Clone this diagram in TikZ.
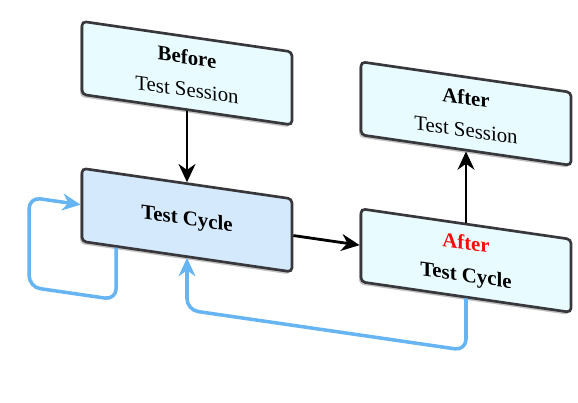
\documentclass[tikz,border=0pt]{standalone}
\usepackage{fontspec}
\setmainfont{Liberation Serif}
\usepackage{tikz}
\usetikzlibrary{arrows.meta, calc, shadows}
\definecolor{sessionfill}{RGB}{232, 252, 255}
\definecolor{cyclefill}{RGB}{212, 233, 251}
\definecolor{boxedge}{RGB}{56, 56, 60}
\definecolor{loopblue}{RGB}{102, 180, 242}
\definecolor{afterred}{RGB}{250, 10, 10}

\begin{document}
\begin{tikzpicture}[
    x=0.025cm, y=-0.025cm,
    box/.style={draw=boxedge, line width=1.9pt, rounded corners=3pt,
                minimum width=5.25cm, minimum height=1.825cm,
                align=center, font=\fontsize{14.8}{23}\selectfont,
                drop shadow={shadow xshift=-1.4pt, shadow yshift=-1.8pt,
                             opacity=0.4, fill=black!60}},
    arrow/.style={-{Stealth[length=13pt, width=12pt]}, line width=2pt, black},
    backloop/.style={-{Stealth[length=13pt, width=12pt]}, line width=2.5pt,
                     loopblue, rounded corners=8pt},
  ]
  \useasboundingbox (0,0) rectangle (578,402);
  \begin{scope}[yslant=-0.145, transform shape]
    % Before test session
    \node[box, fill=sessionfill] (before) at (187,46)
      {\textbf{Before}\\Test Session};

    % Test cycle
    \node[box, fill=cyclefill] (cycle) at (187,193) {\textbf{Test Cycle}};

    % After test session
    \node[box, fill=sessionfill] (aftersession) at (466,46)
      {\textbf{After}\\Test Session};

    % After test cycle
    \node[box, fill=sessionfill] (aftercycle) at (466,193)
      {\textbf{\textcolor{afterred}{After}}\\\textbf{Test Cycle}};

    % Arrows
    \draw[arrow] (before) -- (cycle);
    \draw[arrow] (cycle) -- (aftercycle);
    \draw[arrow] (aftercycle) -- (aftersession);

    % Loops back into the test cycle
    \draw[backloop] ($(cycle.south west)!0.167!(cycle.south east)$)
      -- ++(0,52) -- ++(-87,0) -- ++(0,-89.8) -- (cycle.west);
    \draw[backloop] (aftercycle.south)
      -- ++(0,52) -- ++(-279,0) -- (cycle.south);
  \end{scope}
\end{tikzpicture}
\end{document}
